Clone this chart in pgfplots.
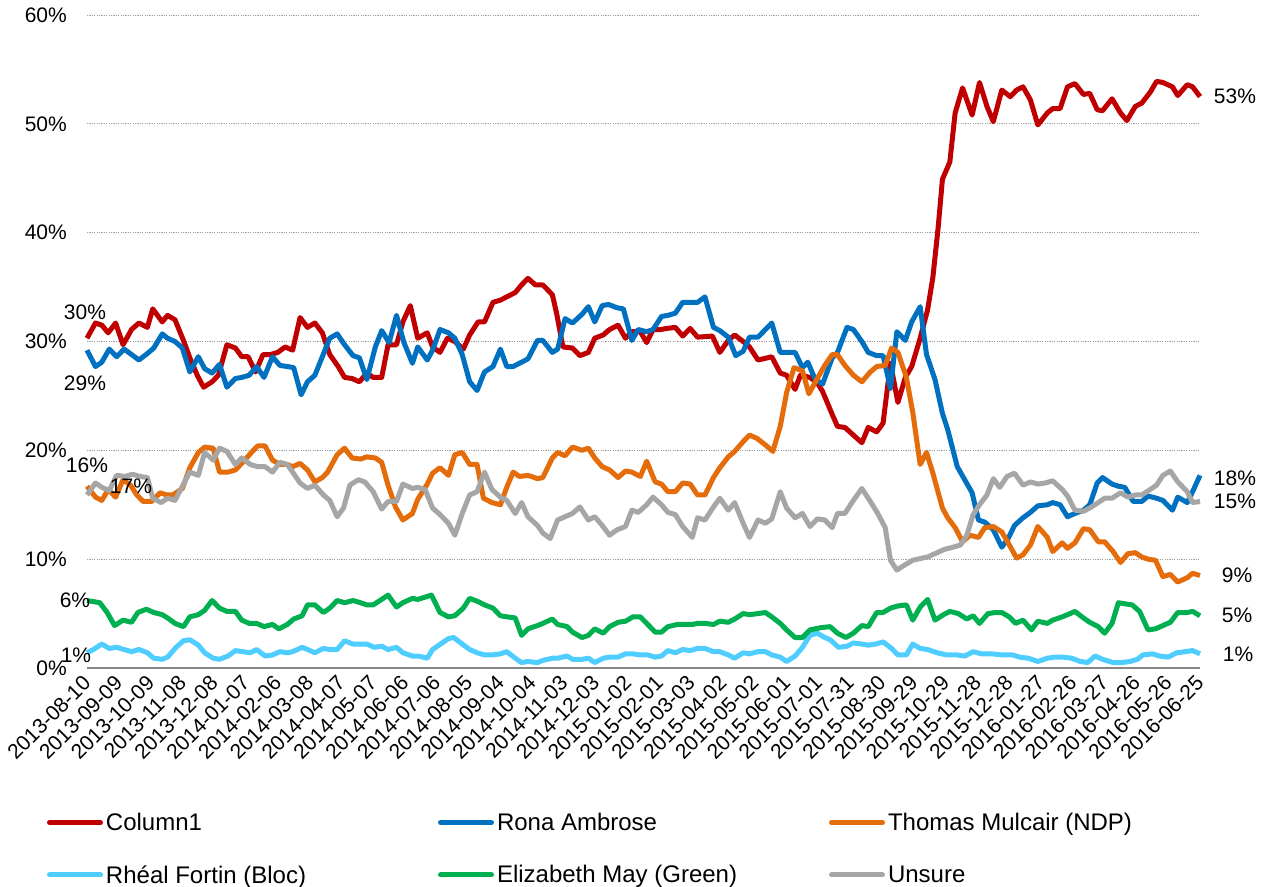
\documentclass[border=0pt]{standalone}
\usepackage{fontspec}
\setmainfont{Liberation Sans}
\usepackage{pgfplots}
\pgfplotsset{compat=1.18}
\definecolor{cRed}{HTML}{C00000}
\definecolor{cBlue}{HTML}{0070C0}
\definecolor{cOrange}{HTML}{E46C0A}
\definecolor{cLight}{HTML}{4FCDFF}
\definecolor{cGreen}{HTML}{00B050}
\definecolor{cGray}{HTML}{A6A6A6}
\definecolor{axisgray}{HTML}{868686}
\definecolor{gridgray}{HTML}{A0A0A0}
\newcommand{\tf}{\fontsize{21bp}{25bp}\selectfont}
\newcommand{\lf}{\fontsize{24bp}{28bp}\selectfont}
\begin{document}
\begin{tikzpicture}
\begin{axis}[
  scale only axis, width=1113bp, height=653bp,
  xmin=0, xmax=1050, ymin=0, ymax=60,
  axis x line*=bottom, axis y line*=left,
  x axis line style={draw=axisgray, line width=2.2bp, -},
  y axis line style={draw=none},
  xtick={0,30,...,1050},
  xticklabels={2013-08-10,2013-09-09,2013-10-09,2013-11-08,2013-12-08,2014-01-07,2014-02-06,2014-03-08,2014-04-07,2014-05-07,2014-06-06,2014-07-06,2014-08-05,2014-09-04,2014-10-04,2014-11-03,2014-12-03,2015-01-02,2015-02-01,2015-03-03,2015-04-02,2015-05-02,2015-06-01,2015-07-01,2015-07-31,2015-08-30,2015-09-29,2015-10-29,2015-11-28,2015-12-28,2016-01-27,2016-02-26,2016-03-27,2016-04-26,2016-05-26,2016-06-25},
  xticklabel style={rotate=45, anchor=east, font=\tf, inner sep=0pt, xshift=-8bp, yshift=-8bp},
  ytick={0,10,...,60},
  yticklabels={0\%,10\%,20\%,30\%,40\%,50\%,60\%},
  yticklabel style={font=\tf, anchor=east, inner sep=0pt, xshift=-20bp},
  major tick length=0pt,
  ymajorgrids, grid style={gridgray, line width=0.8bp, dash pattern=on 1.2bp off 1.2bp},
  clip=false,
  every axis plot/.append style={line width=5bp, line join=round, no markers},
  legend columns=3,
  legend cell align=left,
  legend image code/.code={\draw[#1, line width=5bp, line cap=round] (0bp,0bp) -- (51bp,0bp);},
  legend style={draw=none, fill=none, inner sep=0pt, outer sep=0pt, at={(0,0)}, anchor=north west,
    xshift=-40bp, yshift=-141bp, font=\lf, column sep=0bp, row sep=25.5bp,
    nodes={inner xsep=3bp, inner ysep=4bp}},
]
\addplot[cRed] coordinates {(0,30.3)(8,31.7)(14,31.5)(20,30.8)(27,31.7)(34,29.7)(42,31.1)(49,31.7)(57,31.3)(62,33.0)(71,31.8)(76,32.4)(83,32.0)(91,30.1)(97,28.5)(104,26.9)(110,25.8)(118,26.3)(124,26.9)(132,29.7)(140,29.4)(146,28.6)(152,28.6)(159,27.2)(166,28.8)(173,28.8)(180,29.0)(187,29.5)(194,29.2)(201,32.2)(208,31.3)(215,31.7)(222,30.8)(229,28.8)(237,27.7)(243,26.7)(250,26.6)(257,26.3)(264,27.1)(270,26.7)(278,26.7)(284,29.7)(292,29.7)(298,31.8)(305,33.3)(312,30.3)(321,30.8)(326,29.5)(333,29.0)(340,30.3)(347,30.0)(355,29.3)(361,30.6)(369,31.8)(375,31.8)(383,33.6)(390,33.8)(396,34.1)(404,34.5)(410,35.2)(416,35.8)(423,35.2)(430,35.2)(439,34.3)(443,32.6)(449,29.5)(458,29.4)(465,28.7)(473,29.0)(479,30.3)(487,30.6)(493,31.1)(501,31.5)(508,30.3)(514,30.9)(522,30.9)(528,29.9)(534,31.1)(541,31.1)(547,31.2)(555,31.3)(562,30.5)(569,31.2)(576,30.4)(590,30.5)(597,29.0)(605,30.1)(611,30.6)(619,30.0)(625,29.5)(633,28.3)(642,28.5)(646,28.6)(654,27.1)(660,26.9)(668,25.6)(673,26.9)(682,26.7)(689,26.2)(694,25.4)(703,23.3)(708,22.2)(715,22.1)(723,21.4)(731,20.7)(737,22.1)(745,21.7)(751,22.5)(758,28.0)(765,24.4)(772,26.7)(778,27.7)(786,30.3)(793,32.9)(798,35.9)(803,40.5)(807,44.9)(814,46.5)(819,51.0)(826,53.3)(835,50.8)(842,53.8)(849,51.6)(855,50.2)(863,53.1)(871,52.5)(877,53.1)(883,53.4)(890,52.2)(897,49.9)(906,51.0)(911,51.4)(918,51.4)(925,53.4)(932,53.7)(940,52.7)(946,52.8)(953,51.3)(958,51.2)(967,52.3)(975,51.0)(981,50.3)(989,51.6)(995,51.9)(1003,52.9)(1009,53.9)(1015,53.8)(1024,53.4)(1029,52.6)(1038,53.6)(1043,53.4)(1050,52.5)};
\addlegendentry{\makebox[329bp][l]{Column1}}
\addplot[cBlue] coordinates {(0,29.2)(8,27.7)(14,28.1)(21,29.3)(28,28.6)(35,29.3)(42,28.8)(49,28.3)(57,28.9)(63,29.4)(71,30.7)(76,30.3)(83,30.0)(90,29.4)(97,27.2)(105,28.6)(111,27.5)(118,27.1)(125,27.9)(132,25.8)(140,26.6)(146,26.7)(153,26.9)(160,27.7)(167,26.7)(175,28.6)(182,27.8)(189,27.7)(195,27.6)(202,25.1)(208,26.3)(215,26.9)(222,28.6)(229,30.3)(236,30.7)(243,29.7)(251,28.7)(257,28.5)(264,26.5)(272,29.5)(278,31.0)(285,29.9)(292,32.4)(299,29.9)(307,28.0)(312,29.5)(321,28.3)(326,29.2)(333,31.1)(341,30.8)(347,30.3)(354,28.8)(361,26.3)(368,25.5)(375,27.2)(383,27.7)(390,29.3)(396,27.7)(402,27.7)(408,28.0)(416,28.4)(425,30.1)(430,30.1)(439,29.0)(444,29.3)(451,32.1)(458,31.7)(467,32.5)(473,33.2)(479,31.8)(486,33.3)(492,33.4)(500,33.1)(506,33.0)(514,30.1)(520,31.1)(528,30.9)(534,31.1)(542,32.3)(548,32.4)(555,32.6)(562,33.6)(569,33.6)(576,33.6)(583,34.1)(591,31.3)(597,31.0)(605,30.4)(612,28.7)(619,29.1)(625,30.4)(633,30.4)(640,31.1)(646,31.7)(654,29.0)(660,29.0)(668,29.0)(675,27.6)(680,28.1)(687,26.5)(694,26.1)(703,28.5)(708,29.0)(717,31.3)(723,31.1)(731,30.0)(737,29.0)(745,28.7)(751,28.7)(758,25.7)(764,30.9)(772,30.1)(778,31.8)(786,33.2)(792,28.8)(800,26.5)(807,23.4)(812,21.9)(821,18.5)(828,17.3)(835,16.1)(841,13.6)(847,13.4)(855,12.7)(863,11.1)(869,11.9)(875,13.1)(883,13.8)(890,14.3)(897,14.9)(906,15.0)(911,15.2)(918,15.0)(925,13.9)(932,14.2)(940,14.5)(946,15.0)(953,17.0)(958,17.5)(967,16.9)(973,16.7)(979,16.6)(987,15.3)(995,15.3)(1001,15.8)(1009,15.6)(1015,15.4)(1024,14.5)(1029,15.7)(1038,15.2)(1043,16.2)(1050,17.7)};
\addlegendentry{\makebox[329bp][l]{Rona Ambrose}}
\addplot[cOrange] coordinates {(0,16.7)(8,15.7)(14,15.4)(20,16.4)(27,15.7)(34,17.3)(41,16.8)(47,15.9)(53,15.3)(61,15.3)(69,16.1)(75,15.9)(81,15.9)(90,16.5)(97,18.4)(105,19.8)(111,20.3)(119,20.2)(125,18.0)(133,18.0)(140,18.2)(147,18.9)(156,19.9)(161,20.4)(168,20.4)(175,19.1)(182,18.7)(189,18.7)(194,18.5)(201,18.8)(208,18.2)(215,17.1)(222,17.5)(227,18.0)(236,19.6)(243,20.2)(250,19.3)(258,19.2)(264,19.4)(272,19.3)(278,18.9)(284,16.8)(291,14.8)(298,13.6)(307,14.2)(312,15.5)(321,16.9)(326,17.9)(333,18.4)(341,17.7)(347,19.6)(354,19.8)(361,18.7)(368,18.7)(374,15.6)(382,15.2)(390,15.0)(396,16.6)(402,18.0)(408,17.6)(416,17.7)(425,17.4)(430,17.5)(439,19.3)(444,19.8)(451,19.5)(458,20.3)(467,20.0)(473,20.2)(479,19.3)(486,18.5)(493,18.2)(501,17.5)(508,18.1)(514,18.0)(522,17.6)(528,19.0)(536,17.1)(542,16.9)(548,16.2)(555,16.2)(562,17.0)(569,16.9)(576,15.9)(583,15.9)(591,17.5)(597,18.4)(605,19.4)(611,19.9)(619,20.8)(625,21.4)(632,21.1)(640,20.5)(647,19.9)(654,22.2)(660,25.3)(667,27.6)(675,27.3)(681,25.2)(689,26.6)(696,27.8)(703,28.8)(708,28.8)(715,27.8)(723,26.9)(731,26.3)(739,27.2)(745,27.7)(753,27.8)(759,29.4)(765,29.0)(773,26.7)(779,23.5)(786,18.7)(792,19.8)(798,17.9)(807,14.7)(812,13.8)(819,12.9)(826,11.6)(833,12.2)(841,12.0)(847,12.9)(855,13.0)(863,12.5)(869,11.5)(877,10.1)(883,10.4)(890,11.3)(897,13.0)(906,12.0)(911,10.7)(920,11.5)(925,11.0)(932,11.5)(940,12.8)(946,12.7)(954,11.6)(960,11.6)(968,10.7)(975,9.7)(982,10.5)(989,10.6)(995,10.2)(1001,10.0)(1008,9.9)(1015,8.4)(1022,8.6)(1029,7.9)(1038,8.3)(1043,8.7)(1050,8.5)};
\addlegendentry{Thomas Mulcair (NDP)}
\addplot[cLight] coordinates {(0,1.4)(6,1.7)(14,2.2)(21,1.8)(28,1.9)(35,1.7)(42,1.5)(49,1.7)(57,1.4)(63,0.9)(71,0.8)(76,1.0)(84,1.9)(91,2.5)(97,2.6)(105,2.1)(111,1.4)(119,0.9)(125,0.8)(133,1.1)(140,1.6)(147,1.5)(154,1.4)(160,1.7)(168,1.1)(175,1.2)(182,1.5)(189,1.4)(194,1.5)(203,1.9)(208,1.7)(215,1.4)(223,1.8)(229,1.7)(236,1.7)(243,2.5)(251,2.2)(258,2.2)(264,2.2)(271,1.9)(278,2.0)(284,1.7)(292,1.9)(298,1.4)(307,1.1)(313,1.1)(321,0.9)(326,1.7)(335,2.3)(341,2.7)(346,2.8)(354,2.2)(361,1.7)(368,1.4)(375,1.2)(382,1.2)(390,1.3)(396,1.5)(404,0.9)(410,0.5)(416,0.6)(425,0.5)(430,0.7)(439,0.9)(444,0.9)(453,1.1)(458,0.8)(467,0.8)(473,0.9)(479,0.5)(487,0.9)(493,1.0)(501,1.0)(508,1.3)(515,1.3)(522,1.2)(529,1.2)(536,1.0)(542,1.1)(548,1.6)(555,1.4)(562,1.7)(569,1.6)(576,1.8)(583,1.8)(591,1.5)(597,1.5)(605,1.2)(611,0.9)(619,1.4)(625,1.3)(633,1.5)(640,1.5)(646,1.2)(654,1.0)(660,0.6)(668,1.1)(675,1.9)(682,3.0)(689,3.2)(696,2.8)(701,2.6)(709,1.9)(717,2.0)(723,2.3)(731,2.2)(737,2.1)(744,2.2)(751,2.4)(759,1.8)(765,1.2)(773,1.2)(779,2.2)(786,1.8)(793,1.7)(802,1.4)(811,1.2)(821,1.2)(828,1.1)(836,1.5)(844,1.3)(854,1.3)(863,1.2)(873,1.2)(880,1.0)(888,0.9)(897,0.6)(906,0.9)(913,1.0)(921,1.0)(929,0.9)(937,0.6)(944,0.5)(951,1.1)(958,0.8)(968,0.5)(976,0.5)(984,0.6)(991,0.8)(996,1.2)(1005,1.3)(1012,1.1)(1020,1.0)(1028,1.4)(1036,1.5)(1043,1.6)(1050,1.3)};
\addlegendentry{\makebox[329bp][l]{Rhéal Fortin (Bloc)}}
\addplot[cGreen] coordinates {(0,6.2)(12,6.0)(19,5.1)(26,3.9)(34,4.4)(42,4.2)(48,5.1)(56,5.4)(63,5.1)(71,4.9)(76,4.6)(83,4.1)(91,3.8)(97,4.7)(105,4.9)(111,5.3)(118,6.2)(125,5.5)(132,5.2)(140,5.2)(146,4.4)(153,4.1)(160,4.1)(167,3.8)(175,4.0)(181,3.6)(189,4.0)(195,4.5)(203,4.8)(208,5.8)(215,5.8)(223,5.1)(229,5.5)(236,6.2)(243,6.0)(251,6.2)(258,6.0)(264,5.8)(270,5.8)(278,6.3)(284,6.7)(292,5.6)(298,6.0)(307,6.4)(312,6.3)(325,6.7)(333,5.1)(341,4.7)(347,4.8)(355,5.5)(361,6.4)(369,6.1)(375,5.8)(383,5.5)(390,4.8)(396,4.7)(404,4.6)(410,3.0)(416,3.6)(425,3.9)(430,4.1)(439,4.5)(444,4.0)(453,3.8)(458,3.3)(467,2.8)(473,3.0)(479,3.6)(487,3.2)(493,3.8)(501,4.2)(508,4.3)(515,4.7)(522,4.7)(529,4.0)(536,3.3)(542,3.3)(548,3.8)(557,4.0)(562,4.0)(571,4.0)(576,4.1)(583,4.1)(591,4.0)(597,4.3)(605,4.2)(611,4.5)(619,5.0)(625,4.9)(633,5.0)(640,5.1)(646,4.7)(654,4.1)(660,3.5)(668,2.8)(675,2.8)(682,3.5)(692,3.7)(701,3.8)(708,3.2)(716,2.8)(723,3.2)(731,3.9)(737,3.8)(745,5.1)(751,5.1)(758,5.5)(765,5.7)(773,5.8)(779,4.4)(786,5.6)(793,6.3)(800,4.4)(808,4.9)(814,5.2)(822,5.0)(830,4.5)(836,4.8)(842,4.1)(850,5.0)(857,5.1)(863,5.1)(870,4.7)(876,4.1)(883,4.4)(891,3.5)(897,4.3)(906,4.1)(911,4.4)(920,4.7)(925,4.9)(932,5.2)(940,4.6)(946,4.2)(954,3.8)(960,3.2)(967,4.1)(973,6.0)(979,5.9)(986,5.8)(993,5.2)(1001,3.5)(1008,3.6)(1015,3.9)(1022,4.2)(1029,5.1)(1038,5.1)(1043,5.2)(1050,4.8)};
\addlegendentry{\makebox[329bp][l]{Elizabeth May (Green)}}
\addplot[cGray] coordinates {(0,15.9)(8,17.0)(14,16.6)(21,16.3)(28,17.7)(36,17.6)(43,17.8)(50,17.6)(57,17.5)(62,15.6)(70,15.2)(76,15.6)(83,15.4)(91,16.9)(97,18.0)(105,17.7)(111,19.8)(119,19.1)(125,20.2)(132,19.9)(140,18.7)(146,19.3)(154,18.7)(161,18.5)(168,18.5)(175,18.0)(182,18.9)(189,18.7)(194,18.0)(201,17.0)(208,16.5)(215,16.8)(223,15.9)(229,15.4)(236,13.9)(242,14.7)(248,16.8)(256,17.3)(262,17.1)(270,16.2)(278,14.6)(284,15.3)(292,15.3)(298,16.9)(307,16.5)(312,16.6)(319,16.4)(326,14.7)(333,14.1)(341,13.3)(347,12.2)(354,14.2)(361,15.9)(368,16.2)(375,18.0)(382,16.4)(390,15.7)(396,15.4)(404,14.2)(410,15.2)(416,13.9)(425,13.1)(430,12.4)(437,11.9)(444,13.6)(451,13.9)(458,14.2)(465,14.8)(473,13.6)(479,13.9)(486,13.1)(493,12.2)(500,12.7)(508,13.0)(514,14.5)(520,14.3)(528,15.0)(534,15.7)(542,15.0)(548,14.3)(555,14.1)(562,13.0)(571,12.0)(576,13.8)(583,13.6)(591,14.8)(597,15.6)(605,14.5)(611,15.2)(619,13.3)(625,12.0)(633,13.6)(640,13.3)(646,13.7)(654,16.2)(660,14.7)(668,13.8)(675,14.2)(682,13.0)(689,13.7)(696,13.6)(703,12.9)(708,14.2)(715,14.2)(723,15.4)(731,16.5)(739,15.3)(746,14.2)(753,12.9)(758,9.9)(764,9.0)(772,9.5)(779,9.9)(788,10.1)(793,10.2)(802,10.6)(809,10.9)(817,11.1)(824,11.3)(830,12.2)(836,14.1)(842,15.0)(849,15.9)(855,17.4)(861,16.6)(868,17.6)(875,17.9)(883,16.8)(890,17.1)(897,16.9)(904,17.0)(911,17.2)(920,16.4)(925,15.8)(932,14.5)(940,14.4)(946,14.7)(954,15.2)(960,15.6)(967,15.6)(975,16.1)(982,15.7)(989,15.9)(995,15.9)(1003,16.4)(1009,16.8)(1015,17.7)(1022,18.1)(1029,17.1)(1038,16.2)(1043,15.2)(1050,15.3)};
\addlegendentry{Unsure}
% data labels
\node[font=\tf, inner sep=0pt] at ([xshift=-2bp, yshift=26bp]axis cs:0,30.3) {30\%};
\node[font=\tf, inner sep=0pt] at ([xshift=-2bp, yshift=-33bp]axis cs:0,29.2) {29\%};
\node[font=\tf, inner sep=0pt] at ([xshift=0bp, yshift=30bp]axis cs:0,15.9) {16\%};
\node[font=\tf, inner sep=0pt] at ([xshift=44bp, yshift=0bp]axis cs:0,16.7) {17\%};
\node[font=\tf, inner sep=0pt] at ([xshift=-12bp, yshift=0bp]axis cs:0,6.2) {6\%};
\node[font=\tf, inner sep=0pt] at ([xshift=-11bp, yshift=-3bp]axis cs:0,1.4) {1\%};
\node[font=\tf, inner sep=0pt] at ([xshift=35bp]axis cs:1050,52.5) {53\%};
\node[font=\tf, inner sep=0pt] at ([xshift=35bp, yshift=-3bp]axis cs:1050,17.7) {18\%};
\node[font=\tf, inner sep=0pt] at ([xshift=35bp]axis cs:1050,15.3) {15\%};
\node[font=\tf, inner sep=0pt] at ([xshift=37bp]axis cs:1050,8.5) {9\%};
\node[font=\tf, inner sep=0pt] at ([xshift=37bp]axis cs:1050,4.8) {5\%};
\node[font=\tf, inner sep=0pt] at ([xshift=38bp]axis cs:1050,1.3) {1\%};
\coordinate (BBa) at ([xshift=-87bp, yshift=-218bp]rel axis cs:0,0);
\coordinate (BBb) at ([xshift=77bp, yshift=15bp]rel axis cs:1,1);
\end{axis}
\pgfresetboundingbox
\path[use as bounding box] (BBa) rectangle (BBb);
\end{tikzpicture}
\end{document}
